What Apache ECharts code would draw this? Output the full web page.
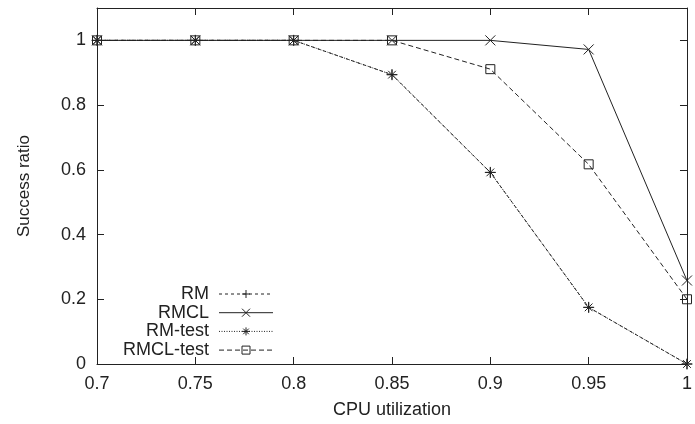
<!DOCTYPE html>
<html>
<head>
<meta charset="utf-8">
<script src="https://cdn.jsdelivr.net/npm/echarts@6/dist/echarts.min.js"></script>
<style>html,body{margin:0;padding:0;background:#fff}#c{width:695px;height:424px}</style>
</head>
<body>
<div id="c"></div>
<script>
const xValues = [0.7, 0.75, 0.8, 0.85, 0.9, 0.95, 1];
const seriesNames = ['RM', 'RMCL', 'RM-test', 'RMCL-test'];
const rmValues = [1, 1, 1, 0.894, 0.592, 0.175, 0];
const rmclValues = [1, 1, 1, 1, 1, 0.972, 0.258];
const rmTestValues = [1, 1, 1, 0.894, 0.592, 0.175, 0];
const rmclTestValues = [1, 1, 1, 1, 0.911, 0.617, 0.2];

const INK = '#222';
const FONT = '"Liberation Sans", Arial, sans-serif';
function pairs(vals) { return xValues.map((x, i) => [x, vals[i]]); }

const symPlus = 'path://M5,0L5,10M0,5L10,5';
const symCross = 'path://M0,0L10,10M10,0L0,10';
const symStar = 'path://M5,0L5,10M0,5L10,5M1.5,1.5L8.5,8.5M8.5,1.5L1.5,8.5';
const symSquare = 'path://M0,0L10,0L10,10L0,10Z';

function mk(name, vals, sym, size, dash) {
  return {
    name: name, type: 'line', data: pairs(vals),
    symbol: sym, symbolSize: size, showSymbol: true,
    lineStyle: { color: INK, width: 1, type: dash },
    itemStyle: { color: 'none', borderColor: INK, borderWidth: 1 },
    emphasis: { disabled: true },
    animation: false
  };
}

const chart = echarts.init(document.getElementById('c'), null, { renderer: 'canvas' });
const tickCommon = { show: true, inside: true, length: 7, lineStyle: { color: INK, width: 1 } };
const lineCommon = { show: true, onZero: false, lineStyle: { color: INK, width: 1 } };
chart.setOption({
  backgroundColor: '#fff',
  animation: false,
  grid: { left: 97, right: 5, top: 8, bottom: 57, containLabel: false },
  legend: {
    orient: 'vertical', left: 118, top: 280, align: 'right',
    itemWidth: 54, itemHeight: 10, itemGap: 0.7,
    itemStyle: { borderWidth: 1 },
    lineStyle: { width: 1 },
    textStyle: { fontFamily: FONT, fontSize: 18, color: INK, padding: [0, 5, 0, 0] },
    data: seriesNames
  },
  xAxis: [{
    type: 'value', min: 0.7, max: 1, interval: 0.05,
    axisLine: lineCommon, axisTick: tickCommon, splitLine: { show: false },
    axisLabel: { fontFamily: FONT, fontSize: 18, color: INK, margin: 11 },
    name: 'CPU utilization', nameLocation: 'middle', nameGap: 37,
    nameTextStyle: { fontFamily: FONT, fontSize: 18, color: INK }
  }, {
    type: 'value', position: 'top', min: 0.7, max: 1, interval: 0.05,
    axisLine: lineCommon, axisTick: tickCommon, axisLabel: { show: false }, splitLine: { show: false }
  }],
  yAxis: [{
    type: 'value', min: 0, max: 1.1, interval: 0.2,
    axisLine: lineCommon, axisTick: tickCommon, splitLine: { show: false },
    axisLabel: { fontFamily: FONT, fontSize: 18, color: INK, margin: 11, showMaxLabel: false },
    name: 'Success ratio', nameLocation: 'middle', nameGap: 64, nameRotate: 90,
    nameTextStyle: { fontFamily: FONT, fontSize: 17, color: INK }
  }, {
    type: 'value', position: 'right', min: 0, max: 1.1, interval: 0.2,
    axisLine: lineCommon, axisTick: tickCommon, axisLabel: { show: false }, splitLine: { show: false }
  }],
  series: [
    mk('RM', rmValues, symPlus, 10, [3, 3]),
    mk('RMCL', rmclValues, symCross, 10, 'solid'),
    mk('RM-test', rmTestValues, symStar, 11, [1, 1.5]),
    mk('RMCL-test', rmclTestValues, symSquare, 9, [5, 3])
  ]
});
</script>
</body>
</html>
